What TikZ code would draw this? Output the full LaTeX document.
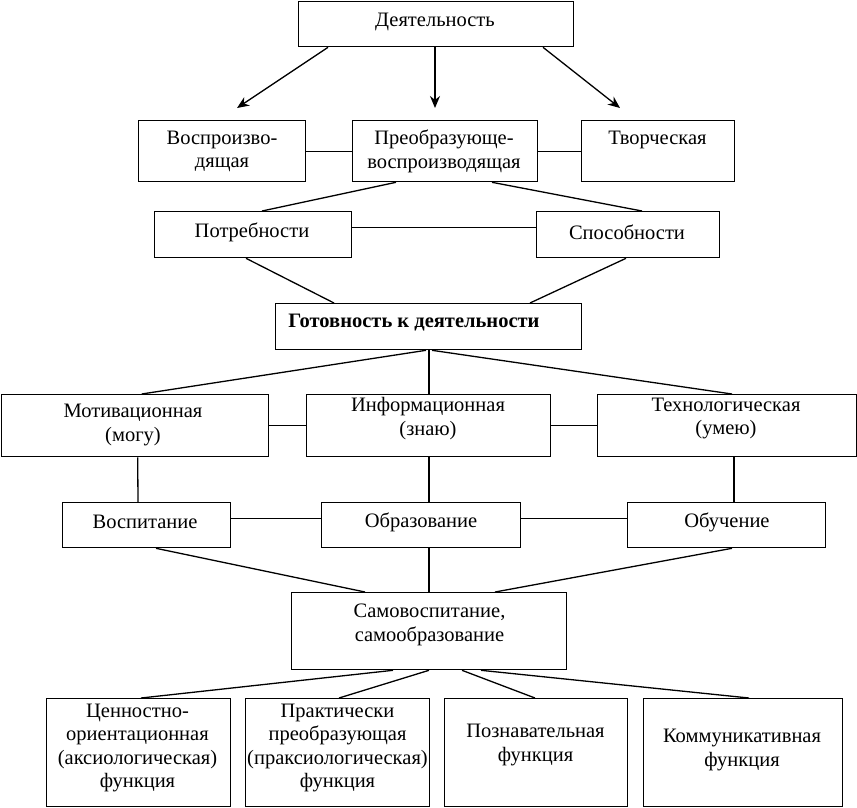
\documentclass[tikz,border=0pt]{standalone}
\usepackage{fontspec}
\setmainfont{Liberation Serif}
\usetikzlibrary{arrows.meta}
\begin{document}
\begin{tikzpicture}[x=1pt,y=-1pt,
  box/.style={draw, line width=1.3pt, inner sep=0pt, anchor=north west},
  txt/.style={align=center, inner sep=0pt, font=\fontsize{20.5}{23.5}\selectfont},
  conn/.style={line width=1.3pt},
  arr/.style={line width=1.3pt, -{Stealth[length=12pt,width=10pt]}}]
\useasboundingbox (0,0) rectangle (857,807);
% boxes
\node[box, minimum width=275pt, minimum height=45pt] (dey) at (298,1) {};
\node[box, minimum width=167pt, minimum height=61pt] (vos) at (138,120) {};
\node[box, minimum width=185pt, minimum height=61pt] (pre) at (352,120) {};
\node[box, minimum width=153pt, minimum height=61pt] (tvo) at (581,120) {};
\node[box, minimum width=197pt, minimum height=46pt] (pot) at (154,211) {};
\node[box, minimum width=183pt, minimum height=46pt] (spo) at (536,211) {};
\node[box, minimum width=306pt, minimum height=46pt] (got) at (275,303) {};
\node[box, minimum width=267pt, minimum height=62pt] (mot) at (0.7,394) {};
\node[box, minimum width=244pt, minimum height=62pt] (inf) at (306,394) {};
\node[box, minimum width=259pt, minimum height=62pt] (teh) at (597,394) {};
\node[box, minimum width=168pt, minimum height=45pt] (vosp) at (62,502) {};
\node[box, minimum width=199pt, minimum height=45pt] (obr) at (321,502) {};
\node[box, minimum width=198pt, minimum height=45pt] (obu) at (627,502) {};
\node[box, minimum width=275pt, minimum height=77pt] (sam) at (291,592) {};
\node[box, minimum width=184pt, minimum height=108pt] (f1) at (46,698) {};
\node[box, minimum width=184pt, minimum height=108pt] (f2) at (245,698) {};
\node[box, minimum width=183pt, minimum height=108pt] (f3) at (444,698) {};
\node[box, minimum width=199pt, minimum height=108pt] (f4) at (643,698) {};
% texts
\node[txt] (tdey) at (435,22) {Деятельность};
\node[txt] (tvos) at (222,151.5) {Воспроизво-\\дящая};
\node[txt] (tpre) at (444,151.5) {Преобразующе-\\воспроизводящая};
\node[txt] (ttvo) at (657.5,140) {Творческая};
\node[txt] (tpot) at (252,232) {Потребности};
\node[txt] (tspo) at (627,232) {Способности};
\node[txt, font=\fontsize{20.5}{23.5}\selectfont\bfseries] (tgot) at (414,323) {Готовность к деятельности};
\node[txt] (tmot) at (133,425) {Мотивационная\\(могу)};
\node[txt] (tinf) at (428,418.5) {Информационная\\(знаю)};
\node[txt] (tteh) at (726,418.5) {Технологическая\\(умею)};
\node[txt] (tvosp) at (145,522) {Воспитание};
\node[txt] (tobr) at (421,522) {Образование};
\node[txt] (tobu) at (727,522) {Обучение};
\node[txt] (tsam) at (429.5,625) {Самовоспитание,\\самообразование};
\node[txt] (tf1) at (137.5,748) {Ценностно-\\ориентационная\\(аксиологическая)\\функция};
\node[txt] (tf2) at (337.5,748) {Практически\\преобразующая\\(праксиологическая)\\функция};
\node[txt] (tf3) at (535.5,745) {Познавательная\\функция};
\node[txt] (tf4) at (742,750) {Коммуникативная\\функция};
% arrows
\coordinate (a1) at (237,108);
\coordinate (a2) at (435,108);
\coordinate (a3) at (620,108);
\draw[arr] ([xshift=30pt]dey.south west) -- (a1);
\draw[arr] ([xshift=137pt]dey.south west) -- (a2);
\draw[arr] ([xshift=245pt]dey.south west) -- (a3);
% connectors
\draw[conn] (vos.east) -- (pre.west);
\draw[conn] (pre.east) -- (tvo.west);
\draw[conn] ([xshift=44pt]pre.south west) -- ([xshift=108pt]pot.north west);
\draw[conn] ([xshift=140pt]pre.south west) -- ([xshift=106pt]spo.north west);
\draw[conn] ([yshift=7pt]pot.east) -- ([yshift=7pt]spo.west);
\draw[conn] ([xshift=92pt]pot.south west) -- ([xshift=59pt]got.north west);
\draw[conn] ([xshift=90pt]spo.south west) -- ([xshift=255pt]got.north west);
\draw[conn] ([xshift=151pt]got.south west) -- ([xshift=141pt]mot.north west);
\draw[conn] ([xshift=154pt]got.south west) -- ([xshift=123pt]inf.north west);
\draw[conn] ([xshift=157pt]got.south west) -- ([xshift=135pt]teh.north west);
\draw[conn] (mot.east) -- (inf.west);
\draw[conn] (inf.east) -- (teh.west);
\draw[conn] ([xshift=137pt]mot.south west) -- ([xshift=76pt]vosp.north west);
\draw[conn] ([xshift=123pt]inf.south west) -- ([xshift=108pt]obr.north west);
\draw[conn] ([xshift=137pt]teh.south west) -- ([xshift=107pt]obu.north west);
\draw[conn] ([yshift=7pt]vosp.east) -- ([yshift=7pt]obr.west);
\draw[conn] ([yshift=7pt]obr.east) -- ([yshift=7pt]obu.west);
\draw[conn] ([xshift=94pt]vosp.south west) -- ([xshift=74pt]sam.north west);
\draw[conn] ([xshift=108pt]obr.south west) -- ([xshift=138pt]sam.north west);
\draw[conn] ([xshift=105pt]obu.south west) -- ([xshift=204pt]sam.north west);
\draw[conn] ([xshift=102pt]sam.south west) -- ([xshift=95pt]f1.north west);
\draw[conn] ([xshift=138pt]sam.south west) -- ([xshift=94pt]f2.north west);
\draw[conn] ([xshift=171pt]sam.south west) -- ([xshift=91pt]f3.north west);
\draw[conn] ([xshift=190pt]sam.south west) -- ([xshift=106pt]f4.north west);
\end{tikzpicture}
\end{document}
